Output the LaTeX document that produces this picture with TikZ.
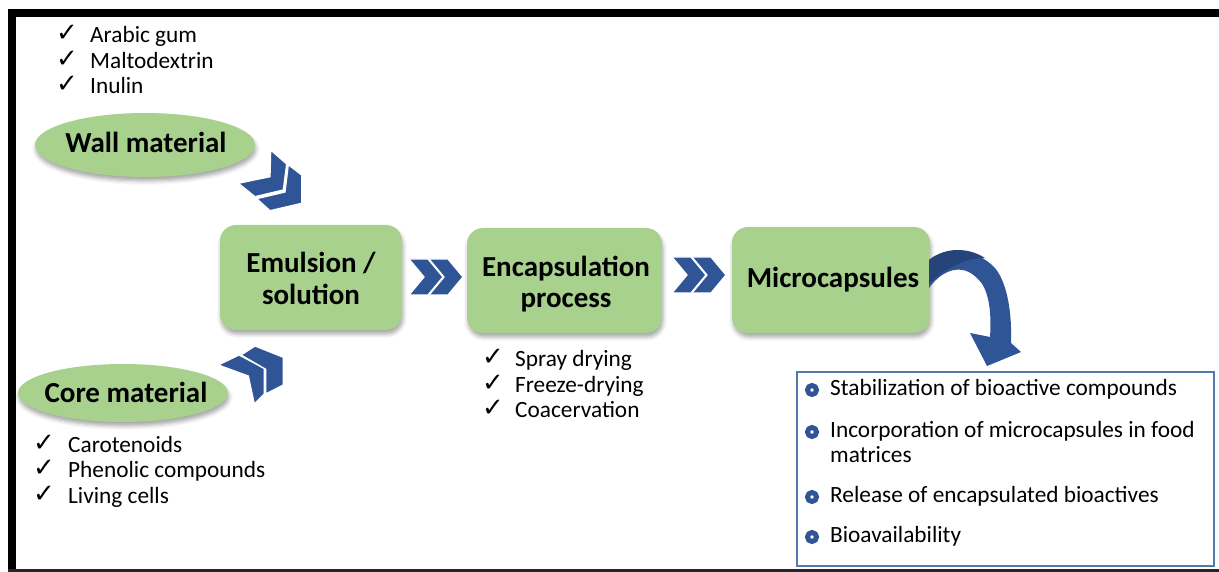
\documentclass[tikz,border=0pt]{standalone}
\usepackage{fontspec}
\setmainfont{Carlito}
\newfontfamily\checkfont{DejaVu Sans}
\usetikzlibrary{shapes.geometric,shadows.blur}
\definecolor{leafgreen}{RGB}{169,209,142}
\definecolor{chevblue}{RGB}{47,85,151}
\definecolor{chevdark}{RGB}{38,68,122}
\definecolor{frameblue}{RGB}{84,122,170}
\newcommand{\tickmark}{{\checkfont\fontsize{26}{28}\selectfont ✓}}

\begin{document}
\begin{tikzpicture}[x=1pt,y=-1pt,
  listtext/.style={inner sep=0pt, anchor=base west, font=\fontsize{23.3}{26}\selectfont},
  tickbox/.style={inner sep=0pt, anchor=base west},
  headtext/.style={inner sep=0pt, anchor=base, font=\bfseries\fontsize{29}{32}\selectfont},
  softshadow/.style={blur shadow={shadow xshift=1pt, shadow yshift=-4pt, shadow opacity=35, shadow blur radius=4pt}},
  pill/.style={ellipse, fill=leafgreen, inner sep=0pt, softshadow},
  stage/.style={rectangle, rounded corners=16pt, fill=leafgreen, inner sep=0pt, softshadow},
  chev/.style={fill=chevblue, draw=white, line width=1.3pt, line join=miter},
  dot/.style={circle, draw=chevblue, fill=white, line width=5pt, minimum size=9pt, inner sep=0pt},
  dblchev/.pic={
    \foreach \o in {0,20}
      \path[chev] (\o,0) -- ++(19,0) -- ++(15,18) -- ++(-15,18) -- ++(-19,0) -- ++(15,-18) -- cycle;
  },
]
\useasboundingbox (0,0) rectangle (1219,572);

% outer frame (open on the right)
\fill[black] (8,9) rectangle (1219,17);
\fill[black] (8,9) rectangle (16,572);
\fill[black!85] (8,569) rectangle (1219,572);

% wall material
\node[tickbox] (tw1) at (56,42) {\tickmark};
\node[listtext] (w1) at (90,43) {Arabic gum};
\node[tickbox] (tw2) at (56,68) {\tickmark};
\node[listtext] (w2) at (90,69) {Maltodextrin};
\node[tickbox] (tw3) at (56,93) {\tickmark};
\node[listtext] (w3) at (90,94) {Inulin};
\node[pill, minimum width=220pt, minimum height=64pt] (wall) at (145,145) {};
\node[headtext] (walltxt) at (146,153) {Wall material};

% core material
\node[pill, minimum width=210pt, minimum height=58pt] (core) at (123,393) {};
\node[headtext] (coretxt) at (126,402) {Core material};
\node[tickbox] (tc1) at (33,451) {\tickmark};
\node[listtext] (c1) at (68,452) {Carotenoids};
\node[tickbox] (tc2) at (33,476) {\tickmark};
\node[listtext] (c2) at (68,477) {Phenolic compounds};
\node[tickbox] (tc3) at (33,502) {\tickmark};
\node[listtext] (c3) at (68,503) {Living cells};

% process stages
\node[stage, minimum width=182pt, minimum height=105pt] (emul) at (311,277.5) {};
\node[headtext] (emul1) at (311,273) {Emulsion /};
\node[headtext] (emul2) at (311,305) {solution};

\node[stage, minimum width=195pt, minimum height=105pt] (encap) at (564.5,280.5) {};
\node[headtext] (encap1) at (566,277) {Encapsulation};
\node[headtext] (encap2) at (566,308) {process};

\node[stage, minimum width=198pt, minimum height=106pt] (micro) at (831,280) {};
\node[headtext] (micro1) at (833,288) {Microcapsules};

% encapsulation techniques
\node[tickbox] (tm1) at (482,365) {\tickmark};
\node[listtext] (m1) at (515,366) {Spray drying};
\node[tickbox] (tm2) at (482,391) {\tickmark};
\node[listtext] (m2) at (515,392) {Freeze-drying};
\node[tickbox] (tm3) at (482,416) {\tickmark};
\node[listtext] (m3) at (515,417) {Coacervation};

% chevrons between the stages
\pic at (409,259) {dblchev};
\pic at (672,257) {dblchev};

% chevron from the wall material down to the emulsion
\path[chev] (270.7,150) -- (286.7,164) -- (283.3,190) -- (255,196.7) -- (238.3,183.3) -- (270,176.7) -- cycle;
\path[chev] (288.3,164.7) -- (301.7,175) -- (301.7,203.3) -- (270,210.7) -- (256.7,198.7) -- (285,192) -- cycle;

% chevron from the core material up to the emulsion
\path[chev] (218.3,365) -- (239,355) -- (264.3,368.3) -- (264.3,394) -- (254.3,404) -- (248.3,376) -- cycle;
\path[chev] (241,355) -- (255,346) -- (283.3,357.3) -- (283.3,385) -- (265.7,394) -- (265.7,369.3) -- cycle;

% curved arrow from the microcapsules to their uses
\fill[chevblue] (929,260) .. controls (945,247) and (975,247) .. (995,268)
  .. controls (1008,284) and (1012,315) .. (1011,343)
  -- (1021,352) -- (987,366) -- (970,333) -- (990,337)
  .. controls (992,310) and (988,288) .. (978,279)
  .. controls (962,262) and (942,270) .. (929,288) -- cycle;
% darker inner fold where the arrow leaves the box
\fill[chevdark] (929,260) .. controls (945,247) and (968,247) .. (985,258)
  .. controls (965,258) and (945,268) .. (929,284) -- cycle;

% applications
\node[draw=frameblue, line width=1.5pt, minimum width=417pt, minimum height=194pt, inner sep=0pt] (uses) at (1005.5,469) {};
\node[dot] (d1) at (812,390) {};
\node[listtext] (u1) at (830,395) {Stabilization of bioactive compounds};
\node[dot] (d2) at (812,432) {};
\node[listtext] (u2) at (830,437) {Incorporation of microcapsules in food};
\node[listtext] (u2b) at (830,462) {matrices};
\node[dot] (d3) at (812,497) {};
\node[listtext] (u3) at (830,502) {Release of encapsulated bioactives};
\node[dot] (d4) at (812,537) {};
\node[listtext] (u4) at (830,542) {Bioavailability};
\end{tikzpicture}
\end{document}
